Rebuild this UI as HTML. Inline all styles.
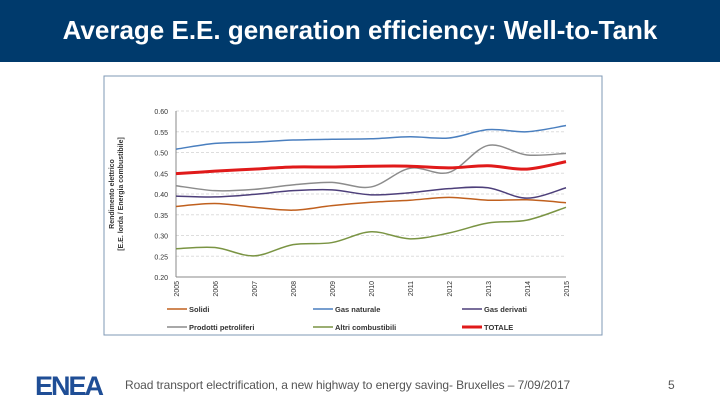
<!DOCTYPE html>
<html><head><meta charset="utf-8"><style>
body{margin:0;width:720px;height:405px;overflow:hidden;background:#fff;font-family:"Liberation Sans",sans-serif;position:relative}
#hdr{position:absolute;left:0;top:0;width:720px;height:62px;background:#003a6c;color:#fff;font-weight:bold;font-size:26px;text-align:center;line-height:60px}
#foot{position:absolute;left:125px;top:378px;font-size:12px;color:#555;letter-spacing:-0.1px}
#pg{position:absolute;left:668px;top:378px;font-size:12px;color:#555}
#logo{position:absolute;left:35px;top:371px;font-size:27px;font-weight:bold;color:#1f4e96;letter-spacing:-2px}
</style></head><body>
<div id="hdr">Average E.E. generation efficiency: Well-to-Tank</div>
<svg id="chart" width="720" height="405" style="position:absolute;left:0;top:0"></svg>
<div id="logo">ENEA</div>
<div id="foot">Road transport electrification, a new highway to energy saving- Bruxelles – 7/09/2017</div>
<div id="pg">5</div>
<script>
const years=["2005","2006","2007","2008","2009","2010","2011","2012","2013","2014","2015"];
const yTicks=[0.20,0.25,0.30,0.35,0.40,0.45,0.50,0.55,0.60];
const solidi=[.370,.377,.368,.361,.372,.380,.385,.392,.385,.386,.379];
const gasNaturale=[.508,.522,.525,.530,.532,.533,.538,.535,.555,.550,.565];
const gasDerivati=[.395,.393,.399,.408,.410,.398,.403,.413,.415,.390,.415];
const prodotti=[.420,.408,.411,.422,.428,.417,.462,.452,.517,.494,.498];
const altri=[.268,.271,.251,.278,.283,.309,.292,.306,.330,.337,.368];
const totale=[.449,.455,.460,.465,.465,.467,.467,.463,.468,.460,.478];
const series=[
 {name:"Solidi",d:solidi,c:"#c0601e",w:1.5},
 {name:"Gas naturale",d:gasNaturale,c:"#4a7fbf",w:1.5},
 {name:"Gas derivati",d:gasDerivati,c:"#4d3f7a",w:1.5},
 {name:"Prodotti petroliferi",d:prodotti,c:"#8c8c8c",w:1.5},
 {name:"Altri combustibili",d:altri,c:"#7a9443",w:1.5},
 {name:"TOTALE",d:totale,c:"#e01a1a",w:3}];
const NS="http://www.w3.org/2000/svg";
const svg=document.getElementById('chart');
const X0=176,X1=566,Y0=277,Y1=111;
const xs=i=>X0+(X1-X0)*i/(years.length-1);
const ys=v=>Y0-(v-0.20)/(0.60-0.20)*(Y0-Y1);
function mk(t,a,p){const e=document.createElementNS(NS,t);for(const k in a)e.setAttribute(k,a[k]);(p||svg).appendChild(e);return e;}
const box=mk('rect',{x:104,y:76,width:498,height:259,fill:'#fff',stroke:'#7f98b5','stroke-width':1});


yTicks.forEach(t=>{
 const y=ys(t);
 if(t>0.2){const g=mk('line',{x1:X0,x2:X1,y1:y,y2:y,stroke:'#ddd','stroke-dasharray':'3,2'});
 
 }
 const tx=mk('text',{x:X0-8,y:y+3,'text-anchor':'end','font-size':7,fill:'#333'});
 tx.textContent=t.toFixed(2);
 
 
});
mk('line',{x1:X0,x2:X0,y1:Y1,y2:Y0,stroke:'#888'});
mk('line',{x1:X0,x2:X1,y1:Y0,y2:Y0,stroke:'#888'});
years.forEach((yr,i)=>{
 const x=xs(i);
 const t=mk('text',{x:x+3,y:Y0+4,'text-anchor':'end','font-size':7,fill:'#333',transform:`rotate(-90 ${x+3} ${Y0+4})`});
 t.textContent=yr;
 
 
});
const yt=mk('text',{x:0,y:0,'font-size':7,'font-weight':'bold',fill:'#333','text-anchor':'middle',transform:'translate(114,194) rotate(-90)'});
yt.innerHTML='<tspan x="0" dy="0">Rendimento elettrico</tspan><tspan x="0" dy="9">[E.E. lorda / Energia combustibile]</tspan>';


function path(d){
 const p=d.map((v,i)=>[xs(i),ys(v)]);
 let s=`M${p[0][0]},${p[0][1]}`;
 for(let i=0;i<p.length-1;i++){
  const a=p[Math.max(0,i-1)],b=p[i],c=p[i+1],e=p[Math.min(p.length-1,i+2)];
  s+=` C${b[0]+(c[0]-a[0])/6},${b[1]+(c[1]-a[1])/6} ${c[0]-(e[0]-b[0])/6},${c[1]-(e[1]-b[1])/6} ${c[0]},${c[1]}`;
 }
 return s;
}
series.forEach(s=>{
 const l=mk('path',{d:path(s.d),fill:'none',stroke:s.c,'stroke-width':s.w});
 
 
});
const lx=[167,313,462],ly=[309,327];
series.forEach((s,i)=>{
 const x=lx[i%3],y=ly[Math.floor(i/3)];
 const g=mk('g',{});
 
 
 mk('line',{x1:x,x2:x+20,y1:y,y2:y,stroke:s.c,'stroke-width':s.w},g);
 const t=mk('text',{x:x+22,y:y+3,'font-size':7.5,'font-weight':'bold',fill:'#333'},g);
 t.textContent=s.name;
});
</script>
</body></html>
